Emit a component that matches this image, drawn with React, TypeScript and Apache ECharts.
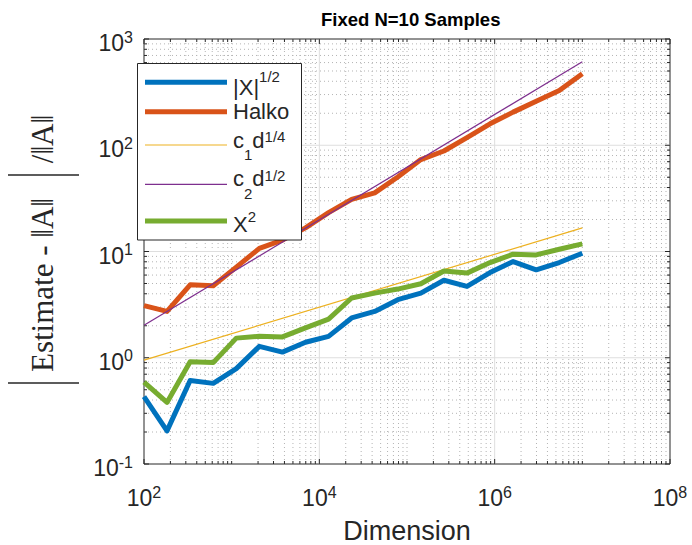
import React, { useEffect, useRef } from 'react';
import * as echarts from 'echarts';

// ---- data ----
const DIMENSIONS = [
  100, 183, 336, 616, 1129, 2069, 3793, 6952, 12743, 23357,
  42813, 78476, 143845, 263665, 483293, 885867, 1623777, 2976351, 5455595, 10000000,
];
const ABS_X_SQRT = [
  0.43, 0.205, 0.61, 0.574, 0.79, 1.28, 1.13, 1.4, 1.59, 2.37,
  2.73, 3.52, 4.06, 5.36, 4.69, 6.34, 8.04, 6.72, 7.87, 9.64,
];
const HALKO = [
  3.09, 2.73, 4.86, 4.76, 7.12, 10.7, 12.8, 16.7, 23.2, 30.9,
  35.6, 50.3, 73.3, 88.3, 118, 159, 205, 260, 327, 470,
];
const X_SQUARED = [
  0.59, 0.38, 0.917, 0.9, 1.53, 1.59, 1.57, 1.91, 2.31, 3.65,
  4.06, 4.43, 4.97, 6.55, 6.26, 7.87, 9.44, 9.29, 10.5, 11.8,
];
const C1_LINE_X = [100, 10000000];
const C1_LINE_Y = [0.95, 16.7];
const C2_LINE_X = [100, 10000000];
const C2_LINE_Y = [2.02, 610];

const X_DECADES = [2, 3, 4, 5, 6, 7, 8];
const X_LABEL_DECADES = [2, 4, 6, 8];
const Y_DECADES = [-1, 0, 1, 2, 3];
const MINOR_MULTIPLIERS = [1, 2, 3, 4, 5, 6, 7, 8, 9];

const TITLE = 'Fixed N=10 Samples';
const X_NAME = 'Dimension';
const SERIES_NAMES = ['|X|^1/2', 'Halko', 'c1 d^1/4', 'c2 d^1/2', 'X^2'];

const COLORS = ['#0072BD', '#D95319', '#EDB120', '#7E2F8E', '#77AC30'];
const INK = '#262626';
const FONT = '"Liberation Sans", Arial, sans-serif';
const SERIF = '"Liberation Serif", "DejaVu Serif", serif';

const X_MIN = 100, X_MAX = 1e8, Y_MIN = 0.1, Y_MAX = 1000;

function buildTicks(decades: number[], maxDecade: number) {
  const out: number[] = [];
  decades.forEach((e) => {
    MINOR_MULTIPLIERS.forEach((m) => {
      if (e === maxDecade && m > 1) return;
      out.push(m * Math.pow(10, e));
    });
  });
  return out;
}

const exponentOf = (v: number) => Math.round(Math.log10(v));
const isDecade = (v: number) => Math.abs(Math.log10(v) - Math.round(Math.log10(v))) < 1e-6;

// all tokens vertically "middle": padding shifts a token by (top - bottom) / 2
const tickRich = {
  b: { fontSize: 23, padding: [8, 0, 0, 0], color: INK, fontFamily: FONT },
  s: { fontSize: 16, padding: [0, 0, 4, 0], color: INK, fontFamily: FONT },
};

export default function App() {
  const ref = useRef<HTMLDivElement>(null);

  useEffect(() => {
    if (!ref.current) return;
    const chart = echarts.init(ref.current, null, { renderer: 'svg' });

    const xTicks = buildTicks(X_DECADES, 8);
    const yTicks = buildTicks(Y_DECADES, 3);

    const xGridSeries = {
      type: 'custom',
      silent: true,
      z: 1,
      clip: false,
      data: xTicks.map((v) => [v, 1]),
      renderItem: (_p: any, api: any) => {
        const v = api.value(0);
        const top = api.coord([v, Y_MAX]);
        const bot = api.coord([v, Y_MIN]);
        const major = isDecade(v) && X_LABEL_DECADES.indexOf(exponentOf(v)) >= 0;
        const children: any[] = [];
        const atEdge = Math.abs(v - X_MIN) < 1e-6 || Math.abs(v - X_MAX) < 1;
        if (!atEdge) {
          children.push({
            type: 'line',
            shape: { x1: top[0], y1: top[1], x2: bot[0], y2: bot[1] },
            style: major
              ? { stroke: '#dedede', lineWidth: 1 }
              : { stroke: '#b4b4b4', lineWidth: 1, lineDash: [1, 3] },
          });
        }
        const len = major ? 5 : 3;
        children.push({ type: 'line', shape: { x1: bot[0], y1: bot[1], x2: bot[0], y2: bot[1] - len }, style: { stroke: INK, lineWidth: 1 } });
        children.push({ type: 'line', shape: { x1: top[0], y1: top[1], x2: top[0], y2: top[1] + len }, style: { stroke: INK, lineWidth: 1 } });
        return { type: 'group', children };
      },
    };

    const yGridSeries = {
      type: 'custom',
      silent: true,
      z: 1,
      clip: false,
      data: yTicks.map((v) => [X_MIN, v]),
      renderItem: (_p: any, api: any) => {
        const v = api.value(1);
        const l = api.coord([X_MIN, v]);
        const r = api.coord([X_MAX, v]);
        const major = isDecade(v);
        const children: any[] = [];
        const atEdge = Math.abs(v - Y_MIN) < 1e-9 || Math.abs(v - Y_MAX) < 1e-6;
        if (!atEdge) {
          children.push({
            type: 'line',
            shape: { x1: l[0], y1: l[1], x2: r[0], y2: r[1] },
            style: major
              ? { stroke: '#dedede', lineWidth: 1 }
              : { stroke: '#b4b4b4', lineWidth: 1, lineDash: [1, 3] },
          });
        }
        const len = major ? 5 : 3;
        children.push({ type: 'line', shape: { x1: l[0], y1: l[1], x2: l[0] + len, y2: l[1] }, style: { stroke: INK, lineWidth: 1 } });
        children.push({ type: 'line', shape: { x1: r[0], y1: r[1], x2: r[0] - len, y2: r[1] }, style: { stroke: INK, lineWidth: 1 } });
        return { type: 'group', children };
      },
    };

    const lineSeries = (name: string, xs: number[], ys: number[], color: string, width: number, z: number) => ({
      type: 'line',
      name,
      data: xs.map((x, i) => [x, ys[i]]),
      showSymbol: false,
      symbol: 'none',
      z,
      lineStyle: { color, width, join: 'round' },
      itemStyle: { color },
      emphasis: { disabled: true },
    });

    // legend (drawn as graphic so that sub/superscripts sit like in MATLAB)
    const legendY = [82.3, 111.7, 145, 184.3, 221];
    const legendW = [5, 5, 1.2, 1.2, 5];
    const tok = (fontSize: number, lineHeight?: number, verticalAlign?: string) => {
      const t: any = { fontSize, fill: INK, fontFamily: FONT };
      if (lineHeight != null) t.lineHeight = lineHeight;
      if (verticalAlign) t.verticalAlign = verticalAlign;
      return t;
    };
    const legendTexts = [
      { y: 83.85, text: '{b||X|}{p|1/2}', rich: { b: tok(22, 29.3, 'bottom'), p: tok(15, undefined, 'top') } },
      { y: 111.7, text: '{b|Halko}', rich: { b: tok(22) } },
      { y: 145.95, text: '{b|c}{u|1}{b|d}{p|1/4}', rich: { b: tok(22, 33.1, 'top'), u: tok(15, undefined, 'bottom'), p: tok(15, undefined, 'top') } },
      { y: 184.65, text: '{b|c}{u|2}{b|d}{p|1/2}', rich: { b: tok(22, 33.7, 'top'), u: tok(15, undefined, 'bottom'), p: tok(15, undefined, 'top') } },
      { y: 222.15, text: '{b|X}{p|2}', rich: { b: tok(22, 25.9, 'bottom'), p: tok(15, undefined, 'top') } },
    ];

    const graphic: any[] = [
      { type: 'rect', z: 100, shape: { x: 137.5, y: 63.5, width: 164, height: 176.5 }, style: { fill: '#ffffff', stroke: INK, lineWidth: 1 } },
      ...legendY.map((y, i) => ({
        type: 'line', z: 101,
        shape: { x1: 145, y1: y, x2: 227, y2: y },
        style: { stroke: COLORS[i], lineWidth: legendW[i] },
      })),
      ...legendTexts.map((t) => ({
        type: 'text', z: 101, x: 233, y: t.y,
        style: { text: t.text, rich: t.rich, align: 'left', verticalAlign: 'middle', fill: INK, fontSize: 22, fontFamily: FONT },
      })),
      // y-axis label: | Estimate - ||A|| | / ||A||
      { type: 'line', z: 50, shape: { x1: 8, y1: 383, x2: 79, y2: 383 }, style: { stroke: INK, lineWidth: 1.3 } },
      { type: 'line', z: 50, shape: { x1: 8, y1: 175, x2: 79, y2: 175 }, style: { stroke: INK, lineWidth: 1.3 } },
      { type: 'text', z: 50, x: 42, y: 285, rotation: Math.PI / 2,
        style: { text: 'Estimate - \u2016A\u2016', fontSize: 31, fontFamily: SERIF, fill: INK, align: 'center', verticalAlign: 'middle' } },
      { type: 'text', z: 50, x: 42, y: 139, rotation: Math.PI / 2,
        style: { text: '/\u2016A\u2016', fontSize: 31, fontFamily: SERIF, fill: INK, align: 'center', verticalAlign: 'middle' } },
    ];

    const option: any = {
      animation: false,
      backgroundColor: '#ffffff',
      textStyle: { fontFamily: FONT, color: INK },
      title: {
        text: TITLE,
        left: 316,
        top: 5,
        textStyle: { fontSize: 18.5, fontWeight: 'bold', color: '#000', fontFamily: FONT },
      },
      grid: {
        left: 144, right: 22, top: 39, bottom: 81,
        outerBoundsMode: 'none',
        containLabel: false,
        show: true, borderColor: INK, borderWidth: 1, backgroundColor: '#ffffff',
      },
      xAxis: {
        type: 'log', logBase: 10, min: X_MIN, max: X_MAX,
        axisLine: { show: false }, axisTick: { show: false }, splitLine: { show: false },
        axisLabel: {
          margin: 14.5,
          formatter: (v: number) => {
            const e = exponentOf(v);
            return X_LABEL_DECADES.indexOf(e) >= 0 ? `{b|10}{s|${e}}` : '';
          },
          rich: tickRich,
        },
        name: X_NAME, nameLocation: 'middle', nameGap: 54, nameMoveOverlap: false,
        nameTextStyle: { fontSize: 27, lineHeight: 25, color: INK, fontFamily: FONT },
      },
      yAxis: {
        type: 'log', logBase: 10, min: Y_MIN, max: Y_MAX,
        axisLine: { show: false }, axisTick: { show: false }, splitLine: { show: false },
        axisLabel: {
          margin: 11,
          formatter: (v: number) => `{b|10}{s|${exponentOf(v)}}`,
          rich: tickRich,
        },
      },
      graphic,
      series: [
        xGridSeries,
        yGridSeries,
        lineSeries(SERIES_NAMES[0], DIMENSIONS, ABS_X_SQRT, COLORS[0], 5, 3),
        lineSeries(SERIES_NAMES[1], DIMENSIONS, HALKO, COLORS[1], 5, 4),
        lineSeries(SERIES_NAMES[2], C1_LINE_X, C1_LINE_Y, COLORS[2], 1.2, 5),
        lineSeries(SERIES_NAMES[3], C2_LINE_X, C2_LINE_Y, COLORS[3], 1.2, 6),
        lineSeries(SERIES_NAMES[4], DIMENSIONS, X_SQUARED, COLORS[4], 5, 7),
      ],
    };

    chart.setOption(option);
    return () => chart.dispose();
  }, []);

  return (
    <div
      ref={ref}
      style={{ position: 'absolute', left: 0, top: 0, width: 692, height: 545 }}
    />
  );
}
